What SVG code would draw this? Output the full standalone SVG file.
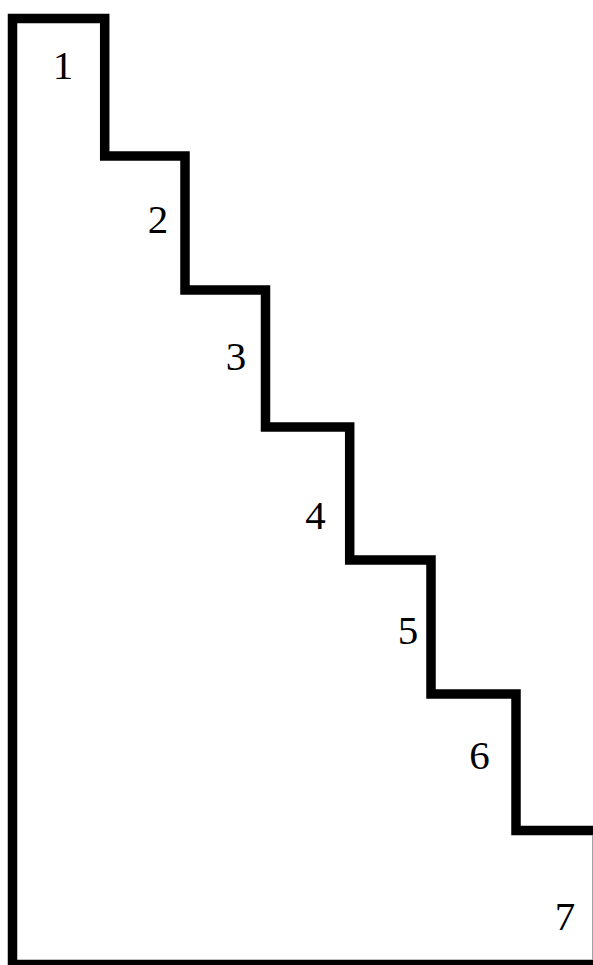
<svg xmlns="http://www.w3.org/2000/svg" width="593" height="965" viewBox="0 0 593 965">
<style>
.stair{fill:none;stroke:#000;stroke-width:9.5;stroke-linejoin:miter}
.edge{stroke:#a0a0a0;stroke-width:1}
.lbl{font-family:"Liberation Serif","Times New Roman",serif;font-size:41px;fill:#000;text-anchor:middle}
</style>
<rect width="593" height="965" fill="#fff"/>
<g id="outline">
<path class="stair" d="M600,830.5 H516 V694 H431 V560 H349.7 V427 H265.5 V290 H185 V156 H104.7 V18.5 H12.5 V964.5 H600"/>
<line class="edge" x1="592.5" y1="835" x2="592.5" y2="960"/>
</g>
<g id="labels">
<text class="lbl" x="63" y="79">1</text>
<text class="lbl" x="158" y="233">2</text>
<text class="lbl" x="236" y="370">3</text>
<text class="lbl" x="315.5" y="529">4</text>
<text class="lbl" x="408" y="644">5</text>
<text class="lbl" x="479.5" y="769">6</text>
<text class="lbl" x="565" y="930">7</text>
</g>
</svg>
